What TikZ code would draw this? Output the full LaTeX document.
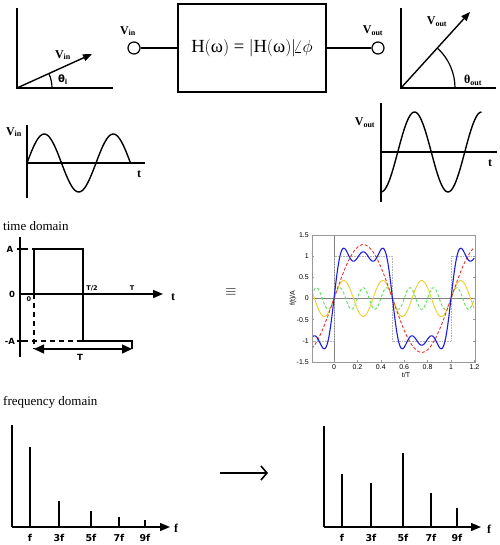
\documentclass[tikz,border=0pt]{standalone}
\usepackage{fontspec}
\setmainfont{Liberation Serif}
\newfontfamily\vsans{DejaVu Sans}
\newfontfamily\psans{Liberation Sans}
\usetikzlibrary{arrows.meta}
\definecolor{pblue}{RGB}{30,30,225}
\definecolor{pred}{RGB}{230,50,50}
\definecolor{pyel}{RGB}{240,205,40}
\definecolor{pgreen}{RGB}{90,225,90}
\begin{document}
\begin{tikzpicture}[x=1pt,y=-1pt,
  axisline/.style={line width=1.4pt},
  vecarrow/.style={line width=1.4pt,-{Triangle[length=9pt,width=7pt]}},
  axarrow/.style={line width=1.4pt,-{Triangle[length=10pt,width=8pt]}},
  wave/.style={line width=1.4pt},
  lbl/.style={font=\fontsize{12}{12}\selectfont\bfseries, inner sep=0},
  ticklbl/.style={font=\vsans\bfseries\fontsize{8.5}{8.5}\selectfont, inner sep=0},
  smalllbl/.style={font=\vsans\bfseries\fontsize{6.5}{6.5}\selectfont, inner sep=0},
  freqlbl/.style={font=\vsans\bfseries\fontsize{9.5}{9.5}\selectfont, inner sep=0},
  bar/.style={line width=2.6pt},
  textlbl/.style={font=\fontsize{13}{13}\selectfont, inner sep=0, anchor=west},
  plotlbl/.style={font=\psans\fontsize{7}{7}\selectfont, inner sep=0},
  port/.style={circle, draw, line width=1.2pt, minimum size=12pt, inner sep=0},
]
\useasboundingbox[fill=white] (0,0) rectangle (499,545);

% ---------- top-left phasor
\coordinate (o1) at (17,88);
\coordinate (y1) at (17,8);
\coordinate (x1) at (113,88);
\coordinate (v1) at (92,54);
\draw[axisline] (y1) -- (o1) -- (x1);
\draw[vecarrow] (o1) -- (v1);
\draw[line width=1.2pt] ([xshift=35pt]o1) arc[start angle=0, end angle=24, radius=35pt];
\node[lbl] (lvin1) at (63,55) {V\textsubscript{in}};
\node[lbl, font=\vsans\bfseries\fontsize{10}{10}\selectfont] (lthi) at (63,80) {θ\textsubscript{i}};

% ---------- system block
\node[port] (cin) at (134,48) {};
\node[lbl] (lvin2) at (128,31) {V\textsubscript{in}};
\node[draw, line width=1.2pt, minimum width=148pt, minimum height=88pt, inner sep=0] (H) at (252,48)
  {\fontsize{18.5}{18.5}\selectfont H$\bigl($ω$\bigr)$ = $\bigl|$H$\bigl($ω$\bigr)\bigr|\!\angle\phi$};
\node[port] (cout) at (378,48) {};
\node[lbl] (lvout2) at (373,31) {V\textsubscript{out}};
\draw[line width=1.2pt] (cin) -- (H);
\draw[line width=1.2pt] (H) -- (cout);

% ---------- top-right phasor
\coordinate (o2) at (401,88);
\coordinate (y2) at (401,8);
\coordinate (x2) at (496,88);
\coordinate (v2) at (470,12);
\draw[axisline] (y2) -- (o2) -- (x2);
\draw[vecarrow] (o2) -- (v2);
\draw[line width=1.2pt] ([xshift=54pt]o2) arc[start angle=0, end angle=47, radius=54pt];
\node[lbl] (lvout1) at (437,22) {V\textsubscript{out}};
\node[lbl] (ltho) at (473,80) {θ\textsubscript{out}};

% ---------- input sine
\coordinate (sa1) at (27,125);
\coordinate (sb1) at (27,198);
\coordinate (sc1) at (27,163);
\coordinate (sd1) at (145,163);
\draw[axisline] (sa1) -- (sb1);
\draw[axisline] (sc1) -- (sd1);
\draw[wave] plot[domain=0:1.5, samples=80, smooth] ({27+69*\x},{163-29*sin(360*\x)});
\node[lbl] (lvin3) at (14,132) {V\textsubscript{in}};
\node[lbl] (lt1) at (139,174) {t};

% ---------- output sine
\coordinate (sa2) at (381,103);
\coordinate (sb2) at (381,202);
\coordinate (sc2) at (381,152);
\coordinate (sd2) at (497,152);
\draw[axisline] (sa2) -- (sb2);
\draw[axisline] (sc2) -- (sd2);
\draw[wave] plot[domain=0:1.5, samples=80, smooth] ({381+67*\x},{152+40*cos(360*\x)});
\node[lbl] (lvout3) at (365,123) {V\textsubscript{out}};
\node[lbl] (lt2) at (490,163) {t};

% ---------- time domain
\node[textlbl] (ltd) at (3,226) {time domain};
\coordinate (ta) at (20,237);
\coordinate (tb) at (20,357);
\coordinate (t0) at (20,294);
\coordinate (tend) at (163,294);
\draw[axisline] (ta) -- (tb);
\draw[axarrow] (t0) -- (tend);
\draw[line width=1.2pt] (17,249) -- (23,249);
\draw[line width=1.2pt] (17,341) -- (23,341);
\draw[line width=1.4pt] (34,294) -- (34,249) -- (83,249) -- (83,341) -- (132,341) -- (132,349);
\draw[line width=1.2pt, dash pattern=on 5pt off 4pt] (23,249) -- (34,249);
\draw[line width=1.2pt, dash pattern=on 5pt off 4pt] (34,294) -- (34,349);
\draw[line width=1.2pt, dash pattern=on 5pt off 4pt] (23,341) -- (83,341);
\coordinate (dl) at (34,349);
\coordinate (dr) at (132,349);
\draw[line width=1.4pt, {Triangle[length=10pt,width=9pt]}-{Triangle[length=10pt,width=9pt]}] (dl) -- (dr);
\node[ticklbl] (lA) at (10,249) {A};
\node[ticklbl] (l0) at (12,294) {0};
\node[ticklbl] (lmA) at (10,341) {-A};
\node[smalllbl] (l00) at (29,299) {0};
\node[smalllbl] (lT2) at (92,288) {T/2};
\node[smalllbl] (lT1) at (132,288) {T};
\node[ticklbl] (lT) at (80,357) {T};
\node[lbl] (lt3) at (173,297) {t};

\node[font=\fontsize{14}{14}\selectfont, inner sep=1pt] (eqv) at (231,292) {$\equiv$};

% ---------- Fourier plot
\begin{scope}
\clip (312,235) rectangle (475,362);
\draw[gray, line width=0.6pt] (334,235) -- (334,362);
\draw[gray, line width=0.6pt] (312,298.5) -- (475,298.5);
\draw[gray!60, densely dotted, line width=0.6pt] (312,340.8) -- (334,340.8) -- (334,256.2) -- (392.5,256.2) -- (392.5,340.8) -- (451,340.8) -- (451,256.2) -- (475,256.2);
\draw[pgreen, line width=0.9pt, dash pattern=on 3pt off 2pt] plot[domain=-0.19:1.2, samples=300, smooth] ({334+117*\x},{298.5-42.3*4/(5*pi)*sin(1800*\x)});
\draw[pyel, line width=0.9pt] plot[domain=-0.19:1.2, samples=300, smooth] ({334+117*\x},{298.5-42.3*4/(3*pi)*sin(1080*\x)});
\draw[pred, line width=0.9pt, dash pattern=on 3pt off 2pt] plot[domain=-0.19:1.2, samples=200, smooth] ({334+117*\x},{298.5-42.3*4/pi*sin(360*\x)});
\draw[pblue, line width=1.1pt] plot[domain=-0.19:1.2, samples=400, smooth] ({334+117*\x},{298.5-42.3*4/pi*(sin(360*\x)+sin(1080*\x)/3+sin(1800*\x)/5)});
\end{scope}
\draw[gray!80, line width=0.5pt] (312,235) rectangle (475,362);
\foreach \v/\s in {1.5/1.5,1/1,0.5/0.5,0/0,-0.5/-0.5,-1/-1,-1.5/-1.5} {
  \draw[gray!80, line width=0.4pt] (312,{298.5-42.3*\v}) -- (314,{298.5-42.3*\v});
  \draw[gray!80, line width=0.4pt] (475,{298.5-42.3*\v}) -- (473,{298.5-42.3*\v});
  \node[plotlbl, anchor=east] (yl\s) at (309,{298.5-42.3*\v}) {\s};
}
\foreach \t/\s in {0/0,0.2/0.2,0.4/0.4,0.6/0.6,0.8/0.8,1/1,1.2/1.2} {
  \draw[gray!80, line width=0.4pt] ({334+117*\t},362) -- ({334+117*\t},360);
  \node[plotlbl] (xl\s) at ({334+117*\t},367) {\s};
}
\node[plotlbl] (lxt) at (406,375) {t/T};
\node[plotlbl, rotate=90] (lyt) at (293,298) {f(t)/A};

% ---------- frequency domain (left)
\node[textlbl] (lfd) at (3,402) {frequency domain};
\coordinate (fa1) at (12,425);
\coordinate (fo1) at (12,527);
\coordinate (fe1) at (170,527);
\draw[axisline] (fa1) -- (fo1);
\draw[axarrow] (fo1) -- (fe1);
\foreach \x/\top/\n in {30/447/f, 59/501/3f, 91/511/5f, 119/517/7f, 145/520/9f} {
  \draw[bar] (\x,\top) -- (\x,527);
  \node[freqlbl] (fl\n) at (\x,538) {\n};
}
\node[lbl] (lf1) at (176,528) {f};

% ---------- arrow
\coordinate (ma) at (220,473);
\coordinate (mb) at (268,473);
\draw[line width=1.6pt, -{Straight Barb[length=6pt,width=14pt]}] (ma) -- (mb);

% ---------- frequency domain (right)
\coordinate (fa2) at (324,426);
\coordinate (fo2) at (324,527);
\coordinate (fe2) at (481,527);
\draw[axisline] (fa2) -- (fo2);
\draw[axarrow] (fo2) -- (fe2);
\foreach \x/\top/\n in {342/474/f, 371/483/3f, 403/453/5f, 431/493/7f, 457/508/9f} {
  \draw[bar] (\x,\top) -- (\x,527);
  \node[freqlbl] (fr\n) at (\x,538) {\n};
}
\node[lbl] (lf2) at (489,529) {f};
\end{tikzpicture}
\end{document}
